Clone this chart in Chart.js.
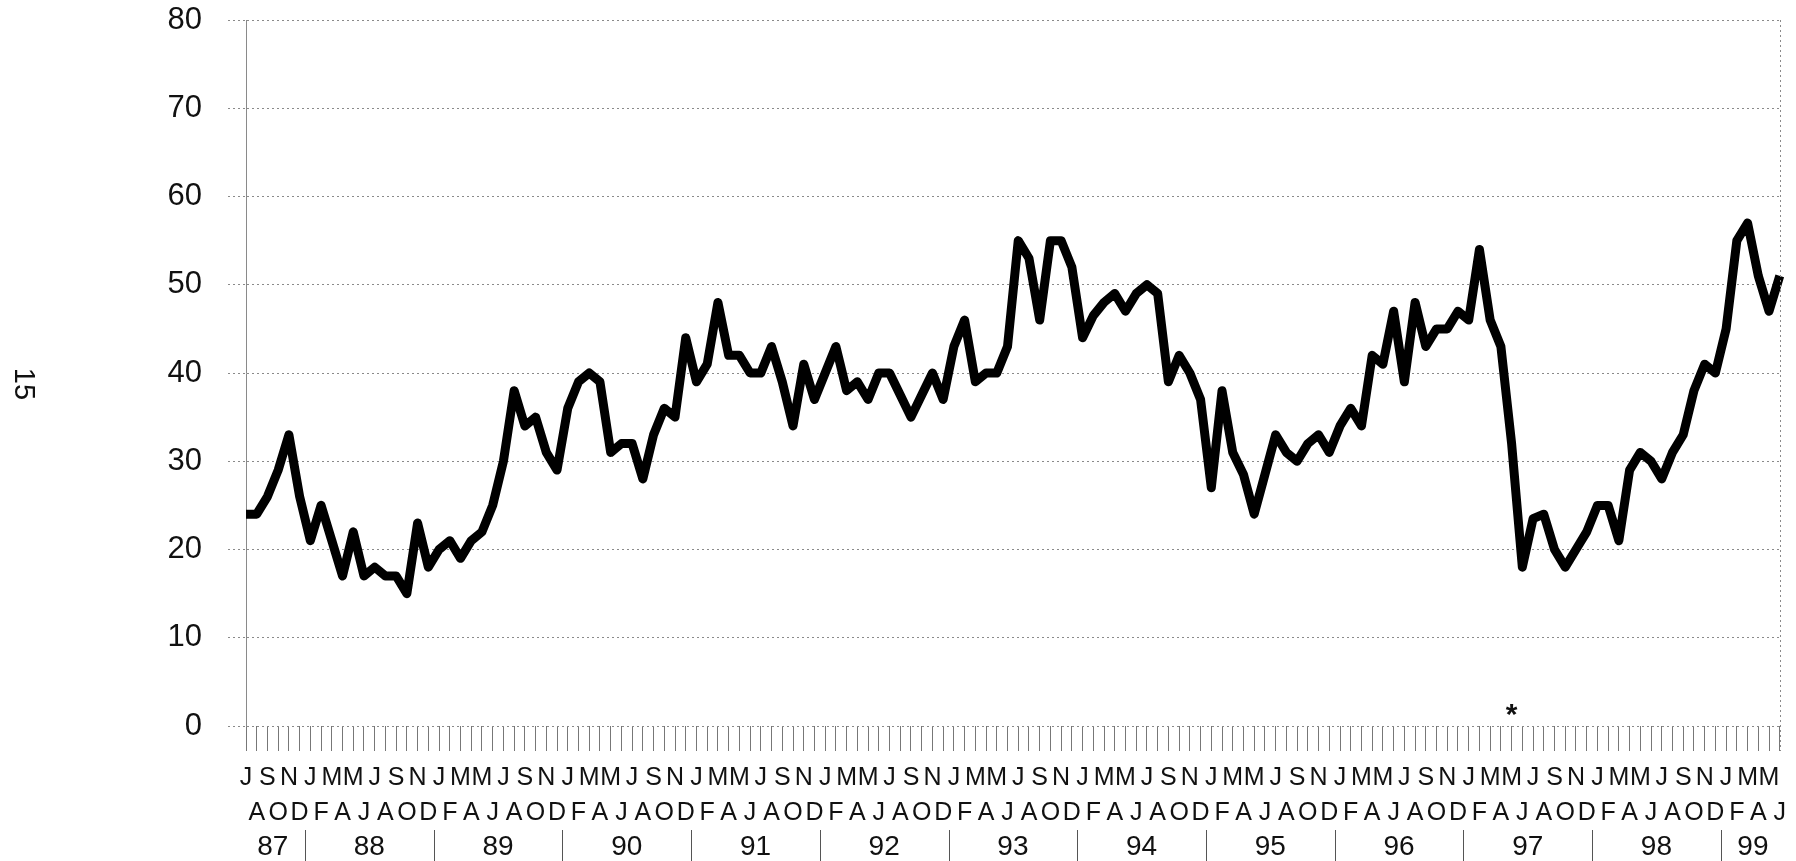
<!DOCTYPE html>
<html lang="en">
<head>
<meta charset="UTF-8" />
<title>Monthly index, Jul 1987 - Jun 1999</title>
<script src="https://cdn.jsdelivr.net/npm/chart.js@4"></script>
<style>
  html, body { margin: 0; padding: 0; background: #fff; }
  #wrap { width: 1796px; height: 861px; position: relative; }
</style>
</head>
<body>
<div id="wrap"><canvas id="chart"></canvas></div>
<script>
// month initials, Jan..Dec
const monthLetters = ['J', 'F', 'M', 'A', 'M', 'J', 'J', 'A', 'S', 'O', 'N', 'D'];
const yearLabels = ['87', '88', '89', '90', '91', '92', '93', '94', '95', '96', '97', '98', '99'];
const firstMonth = 6; // series starts in July 1987

// monthly values
const vals87 = [24, 24, 26, 29, 33, 26];                                   // Jul-Dec
const vals88 = [21, 25, 21, 17, 22, 17, 18, 17, 17, 15, 23, 18];
const vals89 = [20, 21, 19, 21, 22, 25, 30, 38, 34, 35, 31, 29];
const vals90 = [36, 39, 40, 39, 31, 32, 32, 28, 33, 36, 35, 44];
const vals91 = [39, 41, 48, 42, 42, 40, 40, 43, 39, 34, 41, 37];
const vals92 = [40, 43, 38, 39, 37, 40, 40, 37.5, 35, 37.5, 40, 37];
const vals93 = [43, 46, 39, 40, 40, 43, 55, 53, 46, 55, 55, 52];
const vals94 = [44, 46.5, 48, 49, 47, 49, 50, 49, 39, 42, 40, 37];
const vals95 = [27, 38, 31, 28.5, 24, 28.5, 33, 31, 30, 32, 33, 31];
const vals96 = [34, 36, 34, 42, 41, 47, 39, 48, 43, 45, 45, 47];
const vals97 = [46, 54, 46, 43, 32, 18, 23.5, 24, 20, 18, 20, 22];
const vals98 = [25, 25, 21, 29, 31, 30, 28, 31, 33, 38, 41, 40];
const vals99 = [45, 55, 57, 51, 47, 51];                                   // Jan-Jun

const starIndex = 118; // the "*" marker, May 97

const values = [].concat(vals87, vals88, vals89, vals90, vals91, vals92, vals93,
                         vals94, vals95, vals96, vals97, vals98, vals99);

// alternate months on two rows: J S N ... on top, A O D ... underneath
const labels = values.map((v, i) => {
  const letter = monthLetters[(firstMonth + i) % 12];
  return i % 2 === 0 ? [letter, ''] : ['', letter];
});

const FONT = "'Liberation Sans Narrow', 'Liberation Sans', Arial, sans-serif";
const GRID = '#8a8a8a';

const extras = {
  id: 'extras',
  afterDraw(chart) {
    const { ctx, chartArea } = chart;
    const x = chart.scales.x, y = chart.scales.y;
    ctx.save();

    // right frame
    ctx.strokeStyle = GRID;
    ctx.lineWidth = 1;
    ctx.setLineDash([2, 3]);
    ctx.beginPath();
    ctx.moveTo(Math.round(chartArea.right) + 0.5, chartArea.top);
    ctx.lineTo(Math.round(chartArea.right) + 0.5, chartArea.bottom + 25);
    ctx.stroke();
    ctx.setLineDash([]);

    // year row with separators
    const starts = [];
    values.forEach((v, i) => { if (i === 0 || (firstMonth + i) % 12 === 0) starts.push(i); });
    ctx.fillStyle = '#111';
    ctx.font = '28px ' + FONT;
    ctx.textAlign = 'center';
    ctx.textBaseline = 'middle';
    starts.forEach((s, k) => {
      const e = k + 1 < starts.length ? starts[k + 1] - 1 : values.length - 1;
      ctx.fillText(yearLabels[k], x.getPixelForValue((s + e) / 2), 847);
      if (k > 0) {
        const px = Math.round(x.getPixelForValue(s - 0.5)) + 0.5;
        ctx.strokeStyle = '#555';
        ctx.beginPath();
        ctx.moveTo(px, 830);
        ctx.lineTo(px, 861);
        ctx.stroke();
      }
    });

    // asterisk
    ctx.font = 'bold 30px ' + FONT;
    ctx.fillText('*', x.getPixelForValue(starIndex), y.getPixelForValue(1.2));

    // page number, rotated
    ctx.translate(23, 384);
    ctx.rotate(Math.PI / 2);
    ctx.font = '29px ' + FONT;
    ctx.fillText('15', 0, 0);
    ctx.restore();
  }
};

new Chart(document.getElementById('chart'), {
  type: 'line',
  data: {
    labels: labels,
    datasets: [{
      data: values,
      borderColor: '#000',
      borderWidth: 9,
      borderJoinStyle: 'round',
      pointRadius: 0,
      tension: 0,
      fill: false
    }]
  },
  options: {
    responsive: true,
    maintainAspectRatio: false,
    animation: false,
    layout: { padding: { left: 166, right: 14, top: 20, bottom: 25 } },
    plugins: { legend: { display: false }, tooltip: { enabled: false } },
    scales: {
      x: {
        type: 'category',
        offset: false,
        afterFit(scale) { scale.height = 110; },
        grid: {
          display: true,
          drawOnChartArea: false,
          drawTicks: true,
          tickLength: 25,
          tickColor: '#777',
          tickWidth: 1
        },
        border: { display: false },
        ticks: {
          autoSkip: false,
          maxRotation: 0,
          minRotation: 0,
          padding: 10,
          color: '#111',
          font: { family: FONT, size: 25, lineHeight: 1.4 }
        }
      },
      y: {
        min: 0,
        max: 80,
        afterFit(scale) {
          scale.width = 80;
          scale.paddingTop = 0;
          scale.paddingBottom = 0;
        },
        grid: {
          color: GRID,
          lineWidth: 1,
          borderDash: [2, 5],
          tickLength: 18,
          tickColor: GRID,
          tickBorderDash: [2, 3]
        },
        border: { display: true, color: GRID, dash: [2, 3] },
        ticks: {
          stepSize: 10,
          padding: 26,
          color: '#111',
          font: { family: FONT, size: 31 }
        }
      }
    }
  },
  plugins: [extras]
});
</script>
</body>
</html>
